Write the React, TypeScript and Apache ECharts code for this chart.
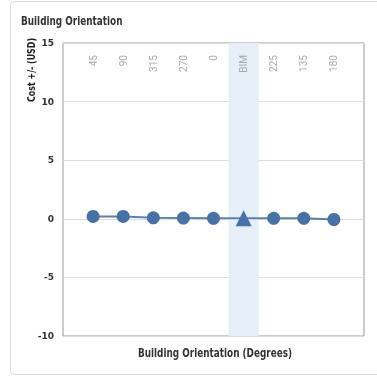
import React, { useEffect, useRef } from "react";
import * as echarts from "echarts";

const categories = ["45", "90", "315", "270", "0", "BIM", "225", "135", "180"];
const costValues = [0.2, 0.2, 0.08, 0.06, 0.04, 0.05, 0.04, 0.04, -0.06];
const highlightCategory = "BIM";
const yTicks = { min: -10, max: 15, interval: 5 };

const condensed = "'DejaVu Sans', 'Roboto', sans-serif";

export default function App() {
  const ref = useRef<HTMLDivElement>(null);
  useEffect(() => {
    if (!ref.current) return;
    const chart = echarts.init(ref.current, undefined, { renderer: "svg" });
    const hiIdx = categories.indexOf(highlightCategory) + 1;
    const data = costValues.map((v, i) => {
      const item: any = { value: [i + 1, v] };
      if (categories[i] === highlightCategory) {
        item.symbol = "triangle";
        item.symbolSize = 16;
      }
      return item;
    });
    chart.setOption({
      animation: false,
      grid: { left: 63, top: 43, right: 13, bottom: 40, show: true, borderColor: "#999", borderWidth: 1, backgroundColor: "transparent" },
      graphic: [
        { type: "rect", shape: { x: 10.5, y: 1.5, width: 420, height: 373, r: 4 }, style: { fill: "none", stroke: "#d8d8d8", lineWidth: 1 }, silent: true, z: -10 },
        { type: "text", x: 21, y: 20, scaleX: 0.74, style: { text: "Building Orientation", font: `bold 12px ${condensed}`, fill: "#333", textVerticalAlign: "middle" } },
        { type: "text", x: 30.5, y: 70, rotation: Math.PI / 2, scaleX: 0.72, style: { text: "Cost +/- (USD)", font: `bold 11px ${condensed}`, fill: "#222", textAlign: "center", textVerticalAlign: "middle" } },
        { type: "text", x: 215, y: 352, scaleX: 0.74, style: { text: "Building Orientation (Degrees)", font: `bold 12px ${condensed}`, fill: "#333", textAlign: "center", textVerticalAlign: "middle" } },
      ],
      xAxis: [
        {
          type: "value",
          position: "top",
          z: 10,
          min: 0,
          max: categories.length + 1,
          interval: 1,
          axisLine: { show: false },
          axisTick: { show: false },
          splitLine: { show: false },
          axisLabel: {
            inside: true,
            rotate: 90,
            margin: 12,
            color: "#aaa",
            fontSize: 10,
            fontFamily: "Roboto, sans-serif",
            showMinLabel: false,
            showMaxLabel: false,
            formatter: (v: number) => categories[v - 1] ?? "",
          },
        },
      ],
      yAxis: {
        type: "value",
        min: yTicks.min,
        max: yTicks.max,
        interval: yTicks.interval,
        axisLine: { show: false },
        axisTick: { show: false },
        splitLine: { lineStyle: { color: "#ddd" } },
        axisLabel: { color: "#333", fontSize: 9, fontWeight: "bold", fontFamily: condensed, margin: 9 },
      },
      series: [
        {
          type: "line",
          data,
          symbol: "circle",
          symbolSize: 13,
          itemStyle: { color: "#4572a7" },
          lineStyle: { color: "#5b81b3", width: 2 },
          markArea: {
            silent: true,
            itemStyle: { color: "#e6eef8" },
            data: [[{ xAxis: hiIdx - 0.5 }, { xAxis: hiIdx + 0.5 }]],
          },
        },
      ],
    });
    return () => chart.dispose();
  }, []);
  return <div ref={ref} style={{ position: "fixed", left: 0, top: 0, width: 377, height: 376 }} />;
}
